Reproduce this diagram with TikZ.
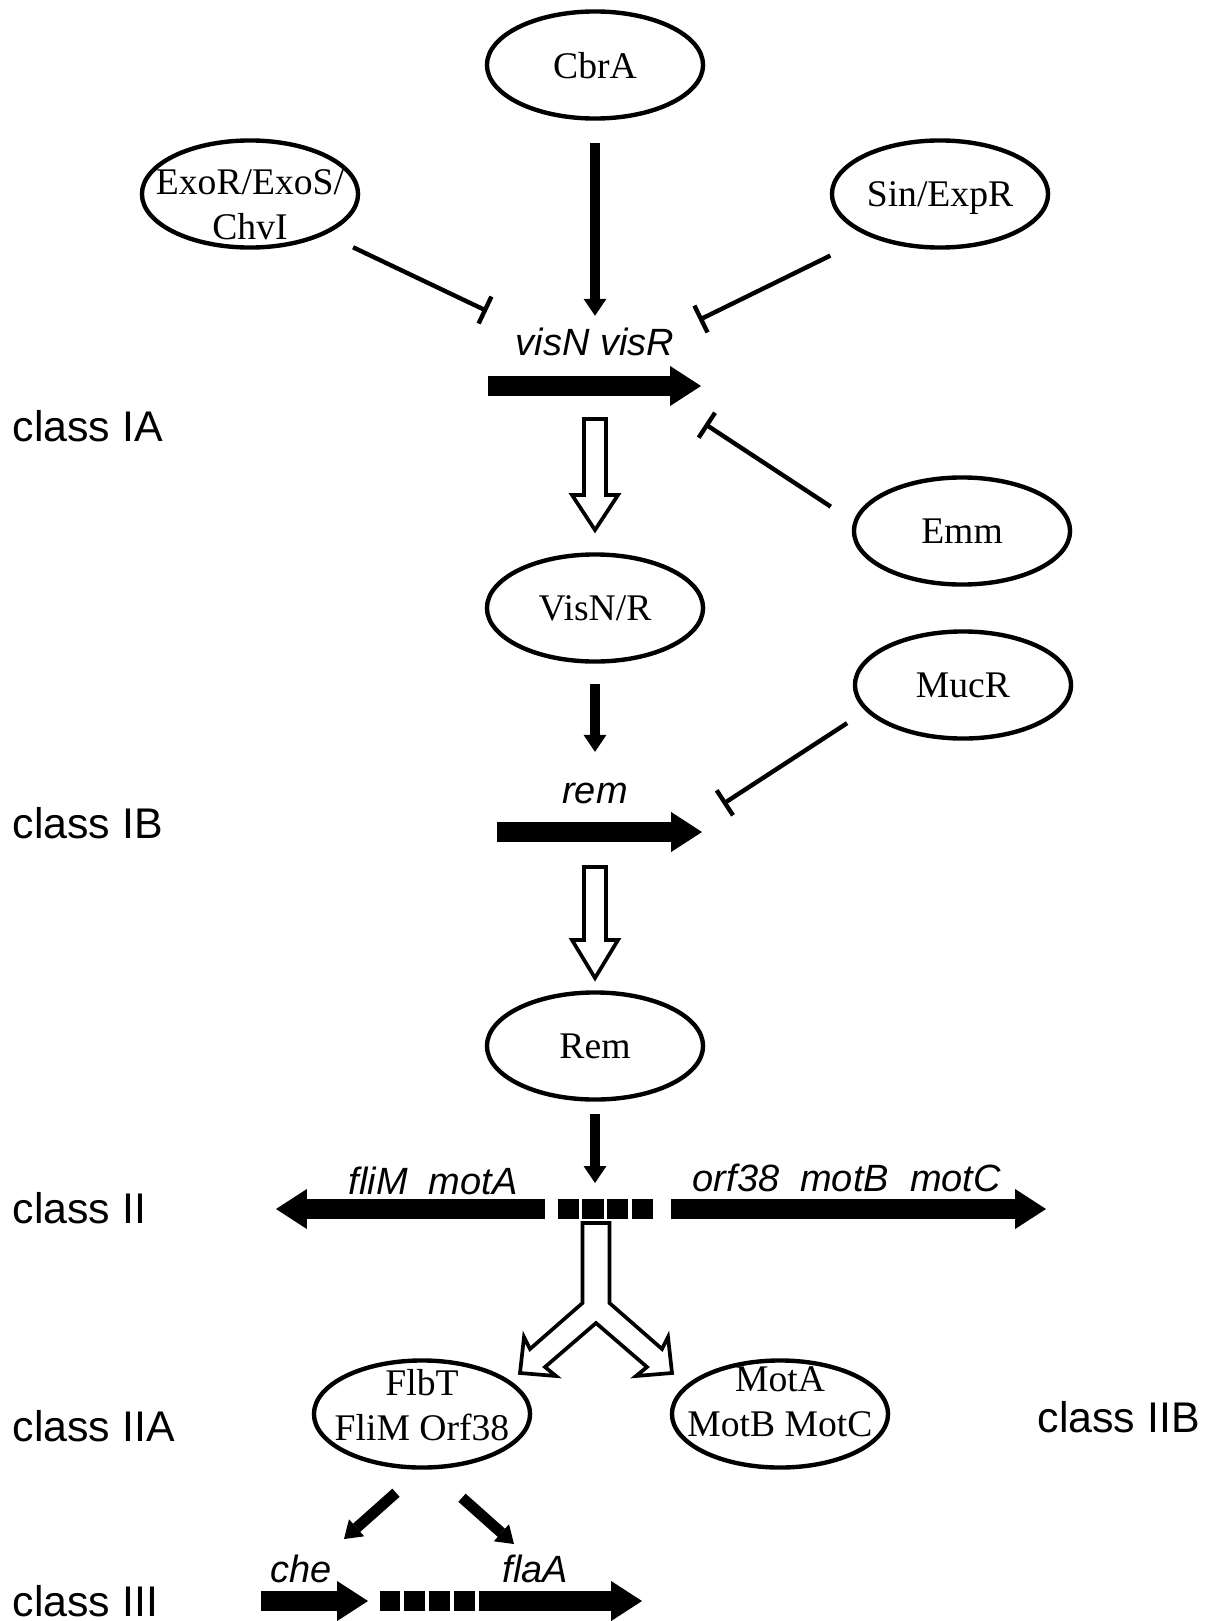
\documentclass[tikz,border=0pt]{standalone}
\usepackage{fontspec}
\setmainfont{Liberation Serif}
\setsansfont{Liberation Sans}
\usetikzlibrary{arrows.meta,shapes.geometric}

\begin{document}
\begin{tikzpicture}[x=0.01cm,y=-0.01cm,
	prot/.style={draw,ellipse,line width=1.25pt,minimum width=2.16cm,minimum height=1.07cm,inner sep=0pt,text depth=0pt,font=\fontsize{10.7}{12.8}\selectfont},
	ptext/.style={align=center,inner sep=0pt,font=\fontsize{10.7}{12.8}\selectfont},
	cls/.style={anchor=base west,inner sep=0pt,font=\fontsize{12.2}{14}\sffamily},
	gname/.style={inner sep=0pt,font=\fontsize{10.8}{13}\sffamily\itshape},
	gene/.style={line width=5.7pt,-{Triangle[width=11.4pt,length=8.8pt,line width=0pt]}},
	act/.style={line width=3.1pt,-{Triangle[width=6.5pt,length=4.8pt,line width=0pt]}},
	inh/.style={line width=1.25pt,-{Bar[width=8.5pt]}},
	hollow/.style={draw,line width=1.05pt,fill=white,line join=miter},
	prombox/.style={line width=5.7pt}]

	\path[use as bounding box,fill=white] (0,0) rectangle (1211,1621);

	\node[prot] (cbra) at (595,65) {CbrA};
	\node[prot] (exo) at (250,194) {};
	\node[ptext] (exotxt) at (250,205) {ExoR/ExoS/\\ChvI};
	\node[prot] (sin) at (940,194) {Sin/ExpR};
	\node[prot] (emm) at (962,531) {Emm};
	\node[prot] (visnr) at (595,608) {VisN/R};
	\node[prot] (mucr) at (963,685) {MucR};
	\node[prot] (rem) at (595,1046) {Rem};
	\node[prot] (flbt) at (422,1414) {};
	\node[ptext] (flbttxt) at (422,1405) {FlbT\\FliM Orf38};
	\node[prot] (mota) at (780,1414) {};
	\node[ptext] (motatxt) at (780,1402) {MotA\\MotB MotC};

	\node[cls] (cIA) at (12,441) {class IA};
	\node[cls] (cIB) at (12,838) {class IB};
	\node[cls] (cII) at (12,1223) {class II};
	\node[cls] (cIIA) at (12,1441) {class IIA};
	\node[cls] (cIIB) at (1037,1432) {class IIB};
	\node[cls] (cIII) at (12,1616) {class III};

	\node[gname,anchor=base] (gvis) at (595,355) {visN visR};
	\node[gname,anchor=base] (grem) at (595,803) {rem};
	\node[gname,anchor=base west] (gfli) at (348,1194) {fliM~~motA};
	\node[gname,anchor=base west] (gorf) at (692,1191) {orf38~~motB~~motC};
	\node[gname,anchor=base west] (gche) at (270,1582) {che};
	\node[gname,anchor=base west] (gfla) at (502,1582) {flaA};

	\coordinate (iA1) at (487,311);
	\coordinate (iA2) at (699,320);
	\coordinate (iA3) at (705,424);
	\coordinate (iB) at (723,804);
	\coordinate (prom) at (605,1209);
	\coordinate (tche) at (344,1539);
	\coordinate (tfla) at (514,1544);

	% genes
	\draw[gene] (488,386) -- (701,386);
	\draw[gene] (497,832) -- (702,832);
	\draw[gene] (545,1209) -- (276,1209);
	\draw[gene] (671,1209) -- (1046,1209);
	\draw[gene] (261,1601) -- (368,1601);
	\draw[gene] (479,1601) -- (642,1601);
	\draw[prombox,dash pattern=on 6.03pt off 0.97pt] (557.7,1209) -- (653,1209);
	\draw[prombox,dash pattern=on 5.86pt off 1.19pt] (379.6,1601) -- (475,1601);

	% regulation
	\draw[act,shorten <=2.2mm,shorten >=1.1mm] (cbra) -- (gvis);
	\draw[act,shorten <=2mm,shorten >=3mm] (visnr) -- (grem);
	\draw[act,shorten <=1.2mm,shorten >=2.6mm] (rem) -- (rem |- prom);
	\draw[act] ([shift={(-26,23)}]flbt.south) -- (tche);
	\draw[act] ([shift={(40,28)}]flbt.south) -- (tfla);
	\draw[inh,shorten <=3mm] (exo.-28) -- (iA1);
	\draw[inh,shorten <=4.3mm] (sin.211) -- (iA2);
	\draw[inh,shorten <=2.7mm] (emm.175) -- (iA3);
	\draw[inh,shorten <=2.2mm] (mucr.195) -- (iB);

	% translation
	\draw[hollow] (584,419) -- (606,419) -- (606,495) -- (618,495) -- (595,530) -- (572,495) -- (584,495) -- cycle;
	\draw[hollow] (584,867) -- (606,867) -- (606,940) -- (618,940) -- (595,978) -- (572,940) -- (584,940) -- cycle;
	\draw[hollow] (582.5,1223) -- (609.5,1223) -- (609.5,1303) -- (662,1349) -- (668,1337) -- (672,1373) -- (636,1376) -- (647,1367)
		-- (596,1323) -- (545,1367) -- (556,1376) -- (520,1373) -- (524,1337) -- (530,1349) -- (582.5,1303) -- cycle;
\end{tikzpicture}
\end{document}
